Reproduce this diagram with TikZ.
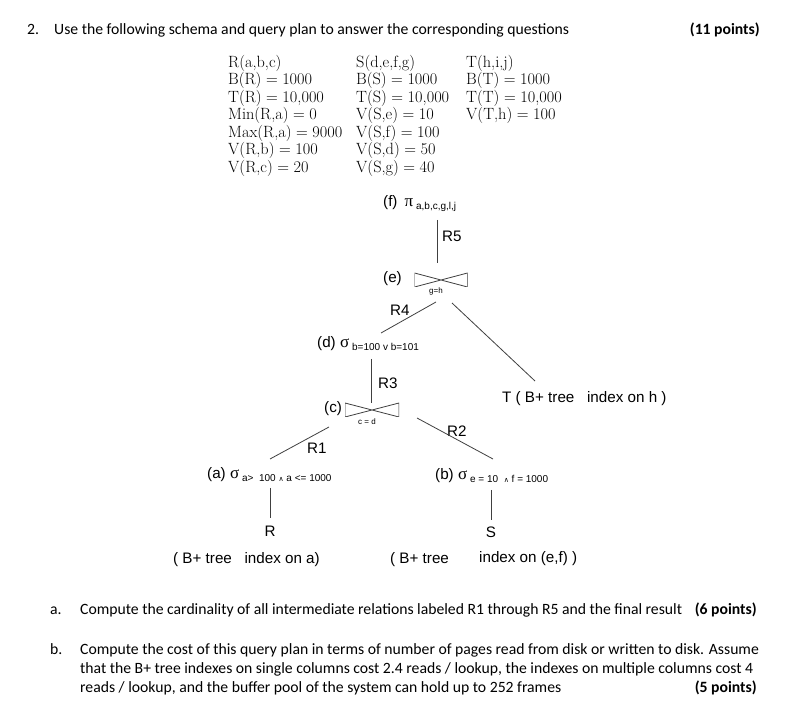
\documentclass[tikz,border=0pt]{standalone}
\usepackage{fontspec}
\newfontfamily\qfont{Carlito}
\newfontfamily\dfont{Liberation Sans}
\newfontfamily\gfont{Liberation Serif}
\newfontfamily\djv{DejaVu Sans}
\newcommand{\eqs}{\hspace{.2778em}=\hspace{.2778em}}
\newcommand{\subx}[1]{\hspace{3pt}\raisebox{-3pt}{\fontsize{10}{10}\selectfont #1}}
\newcommand{\andsym}{{\djv\fontsize{7}{7}\selectfont ∧}}
\newcommand{\gsym}[1]{{\gfont\fontsize{17}{17}\selectfont #1}}
\tikzset{
  qtxt/.style={inner sep=0pt, anchor=base west, font=\qfont\fontsize{15.7}{18}\selectfont},
  sch/.style={inner sep=0pt, anchor=west, font=\rmfamily\fontsize{16.3}{18}\selectfont},
  lab/.style={inner sep=0pt, anchor=base west, font=\dfont\fontsize{15.2}{17}\selectfont},
  tiny/.style={inner sep=0pt, anchor=center, font=\dfont\fontsize{8}{9}\selectfont},
  conn/.style={draw=black!75, line width=0.8pt},
  bowtie/.style={draw=none, inner sep=0pt, minimum width=53pt, minimum height=14pt,
    path picture={
      \draw[black!75, line width=0.8pt]
        (path picture bounding box.north west) -- (path picture bounding box.south west)
        -- (path picture bounding box.center) -- cycle
        (path picture bounding box.north east) -- (path picture bounding box.south east)
        -- (path picture bounding box.center) -- cycle;
    }},
}
\begin{document}
\begin{tikzpicture}[x=1pt, y=-1pt]
\useasboundingbox (0,0) rectangle (807,719);
\fill[white] (0,0) rectangle (807,719);

% heading
\node[qtxt] (qnum) at (27,34.5) {2.};
\node[qtxt] (qhead) at (54,34.5) {Use the following schema and query plan to answer the corresponding questions};
\node[qtxt, anchor=base east] (qpts) at (760,34.5) {\bfseries (11 points)};

% schema
\node[sch] (s11) at (228,63) {R(a,b,c)};
\node[sch] (s12) at (228,80.5) {B(R)\eqs 1000};
\node[sch] (s13) at (228,98) {T(R)\eqs 10,000};
\node[sch] (s14) at (228,115.5) {Min(R,a)\eqs 0};
\node[sch] (s15) at (228,133) {Max(R,a)\eqs 9000};
\node[sch] (s16) at (228,150.5) {V(R,b)\eqs 100};
\node[sch] (s17) at (228,168) {V(R,c)\eqs 20};
\node[sch] (s21) at (356,63) {S(d,e,f,g)};
\node[sch] (s22) at (356,80.5) {B(S)\eqs 1000};
\node[sch] (s23) at (356,98) {T(S)\eqs 10,000};
\node[sch] (s24) at (356,115.5) {V(S,e)\eqs 10};
\node[sch] (s25) at (356,133) {V(S,f)\eqs 100};
\node[sch] (s26) at (356,150.5) {V(S,d)\eqs 50};
\node[sch] (s27) at (356,168) {V(S,g)\eqs 40};
\node[sch] (s31) at (466,63) {T(h,i,j)};
\node[sch] (s32) at (466,80.5) {B(T)\eqs 1000};
\node[sch] (s33) at (466,98) {T(T)\eqs 10,000};
\node[sch] (s34) at (466,115.5) {V(T,h)\eqs 100};

% plan nodes
\node[lab] (fproj) at (383,207) {(f)\hspace{7pt}\gsym{π}\subx{a,b,c,g,l,j}};
\node[lab] (elab) at (383,283) {(e)};
\node[bowtie] (ej) at (441,280) {};
\node[tiny] (ecnd) at (436,291.5) {g=h};
\node[lab] (dsel) at (317,348) {(d) \gsym{σ}\subx{b=100 v b=101}};
\node[lab] (clab) at (324,413) {(c)};
\node[bowtie, minimum width=54pt] (cj) at (372,410) {};
\node[tiny] (ccnd) at (367,421.5) {c = d};
\node[lab] (asel) at (207,479) {(a) \gsym{σ}\subx{a>\ \ 100 \andsym\ a <= 1000}};
\node[lab] (bsel) at (435,480) {(b) \gsym{σ}\subx{e = 10 \ \andsym\ f = 1000}};
\node[lab] (tnode) at (502,403) {T ( B+ tree \ \ index on h )};
\node[lab, anchor=base] (rnode) at (270,537) {R};
\node[lab, anchor=base] (snode) at (491,538) {S};
\node[lab] (rnote) at (173,564) {( B+ tree \ \ index on a)};
\node[lab] (snote1) at (390,564) {( B+ tree};
\node[lab] (snote2) at (479,562) {index on (e,f) )};

% edge labels
\node[lab] (r5) at (442,242) {R5};
\node[lab] (r4) at (390,316) {R4};
\node[lab] (r3) at (378,389) {R3};
\node[lab] (r1) at (307,454) {R1};
\node[lab] (r2) at (447,437) {R2};

% connector ends
\coordinate (f-out) at (437,220);
\coordinate (e-in) at (437,263);
\coordinate (e-l) at (436,302);
\coordinate (d-in) at (381,333);
\coordinate (e-r) at (452,303);
\coordinate (t-in) at (535,381);
\coordinate (d-out) at (371,359);
\coordinate (c-in) at (371,403);
\coordinate (c-l) at (329,427);
\coordinate (a-in) at (270,459);
\coordinate (c-r) at (417,418);
\coordinate (b-in) at (493,459);
\coordinate (a-out) at (270,488);
\coordinate (r-in) at (270,518);
\coordinate (b-out) at (491,490);
\coordinate (s-in) at (491,520);

\draw[conn] (f-out) -- (e-in);
\draw[conn] (e-l) -- (d-in);
\draw[conn] (e-r) -- (t-in);
\draw[conn] (d-out) -- (c-in);
\draw[conn] (c-l) -- (a-in);
\draw[conn] (c-r) -- (b-in);
\draw[conn] (a-out) -- (r-in);
\draw[conn] (b-out) -- (s-in);

% questions
\node[qtxt] (qa) at (50,614) {a.};
\node[qtxt] (qatxt) at (80,614) {Compute the cardinality of all intermediate relations labeled R1 through R5 and the final result};
\node[qtxt, anchor=base east] (qapts) at (757,614) {\bfseries (6 points)};
\node[qtxt] (qb) at (50,654) {b.};
\node[qtxt] (qb1) at (80,654) {Compute the cost of this query plan in terms of number of pages read from disk or written to disk. Assume};
\node[qtxt] (qb2) at (80,673) {that the B+ tree indexes on single columns cost 2.4 reads / lookup, the indexes on multiple columns cost 4};
\node[qtxt] (qb3) at (80,692) {reads / lookup, and the buffer pool of the system can hold up to 252 frames};
\node[qtxt, anchor=base east] (qbpts) at (757,692) {\bfseries (5 points)};
\end{tikzpicture}
\end{document}
